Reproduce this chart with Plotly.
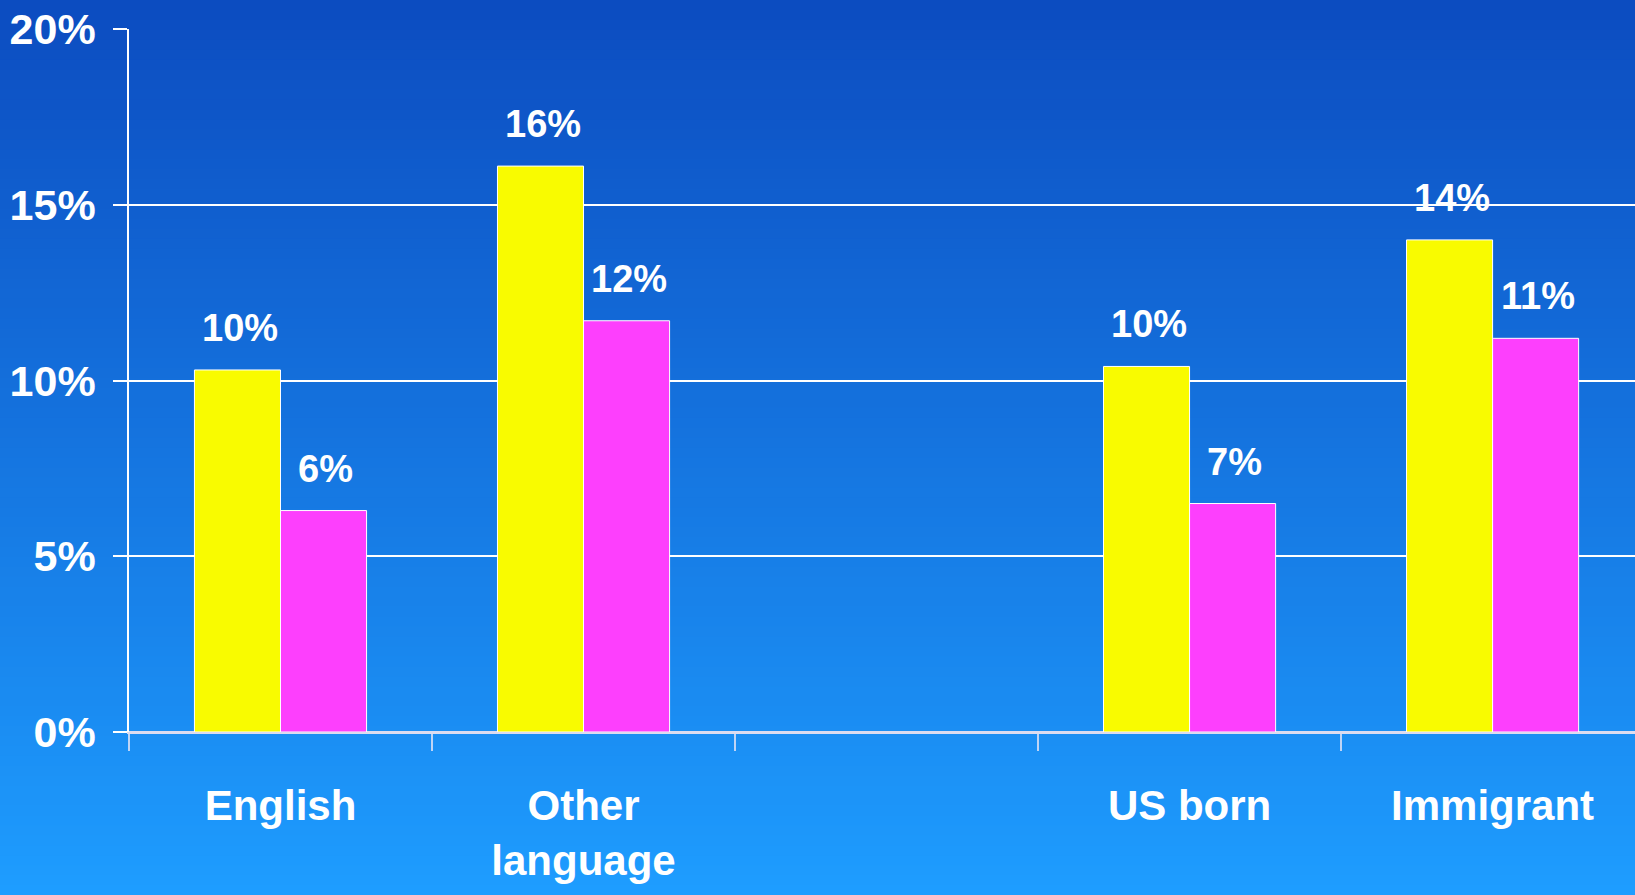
import plotly.graph_objects as go

# ---- data ----
categories = ["English", "Other<br>language", " ", "US born", "Immigrant"]
yellow_values = [10.3, 16.1, None, 10.4, 14.0]
magenta_values = [6.3, 11.7, None, 6.5, 11.2]
yellow_labels = ["10%", "16%", "", "10%", "14%"]
magenta_labels = ["6%", "12%", "", "7%", "11%"]
y_ticks = [0, 5, 10, 15, 20]
y_tick_text = ["0%", "5%", "10%", "15%", "20%"]

W, H = 1635, 895
M_L, M_R, M_T, M_B = 129, 0, 29, 163
FONT = "Liberation Sans"

fig = go.Figure()
fig.add_trace(go.Bar(x=categories, y=yellow_values, name="yellow",
                     marker=dict(color="#f9fb00", line=dict(color="white", width=1))))
fig.add_trace(go.Bar(x=categories, y=magenta_values, name="magenta",
                     marker=dict(color="#fd3ffd", line=dict(color="white", width=1))))

annotations = []
for shift, vals, labs in ((-41, yellow_values, yellow_labels), (45, magenta_values, magenta_labels)):
    for c, v, t in zip(categories, vals, labs):
        if v is None:
            continue
        annotations.append(dict(x=c, y=v, text=t, xref="x", yref="y", showarrow=False,
                                xshift=shift, yshift=19, yanchor="bottom", xanchor="center",
                                font=dict(family=FONT, size=38, color="white", weight="bold")))

# background gradient strips (paper coords)
plot_h = H - M_T - M_B
plot_w = W - M_L - M_R
shapes = []
n = 90
top = (12, 76, 192)
bot = (30, 157, 255)
for i in range(n):
    y0_px = H * i / n
    y1_px = H * (i + 1) / n + 1
    f = (i + 0.5) / n
    col = "rgb(%d,%d,%d)" % tuple(round(top[k] + (bot[k] - top[k]) * f) for k in range(3))
    shapes.append(dict(type="rect", xref="paper", yref="paper", layer="below",
                       x0=-M_L / plot_w - 0.01, x1=1.01,
                       y0=(H - M_B - y1_px) / plot_h, y1=(H - M_B - y0_px) / plot_h,
                       fillcolor=col, line=dict(width=0)))

fig.update_layout(
    width=W, height=H,
    margin=dict(l=M_L, r=M_R, t=M_T, b=M_B),
    paper_bgcolor="#1a7fe8", plot_bgcolor="rgba(0,0,0,0)",
    barmode="group", bargap=0.432, bargroupgap=0,
    showlegend=False,
    shapes=shapes, annotations=annotations,
    font=dict(family=FONT, color="white"),
)
fig.update_xaxes(
    type="category", categoryorder="array", categoryarray=categories,
    range=[-0.5, 4.47], tickson="boundaries", ticks="outside", ticklen=17,
    tickwidth=2, tickcolor="rgba(220,225,245,0.85)",
    showline=True, linecolor="#dcdcf0", linewidth=2, showgrid=False,
    tickfont=dict(family=FONT, size=42, color="white", weight="bold"),
    ticklabelstandoff=36,
)
fig.update_yaxes(
    range=[0, 20], tickmode="array", tickvals=y_ticks, ticktext=y_tick_text,
    ticks="outside", ticklen=14, tickcolor="white", tickwidth=1.5,
    showline=True, linecolor="white", linewidth=1.5,
    showgrid=True, gridcolor="white", gridwidth=1.5,
    zeroline=True, zerolinecolor="#dcdcf0", zerolinewidth=2,
    tickfont=dict(family=FONT, size=43, color="white", weight="bold"),
    ticklabelstandoff=9,
)

fig.write_html("out.html", config={"displayModeBar": False},
               post_script="document.body.style.margin='0';document.body.style.overflow='hidden';")
